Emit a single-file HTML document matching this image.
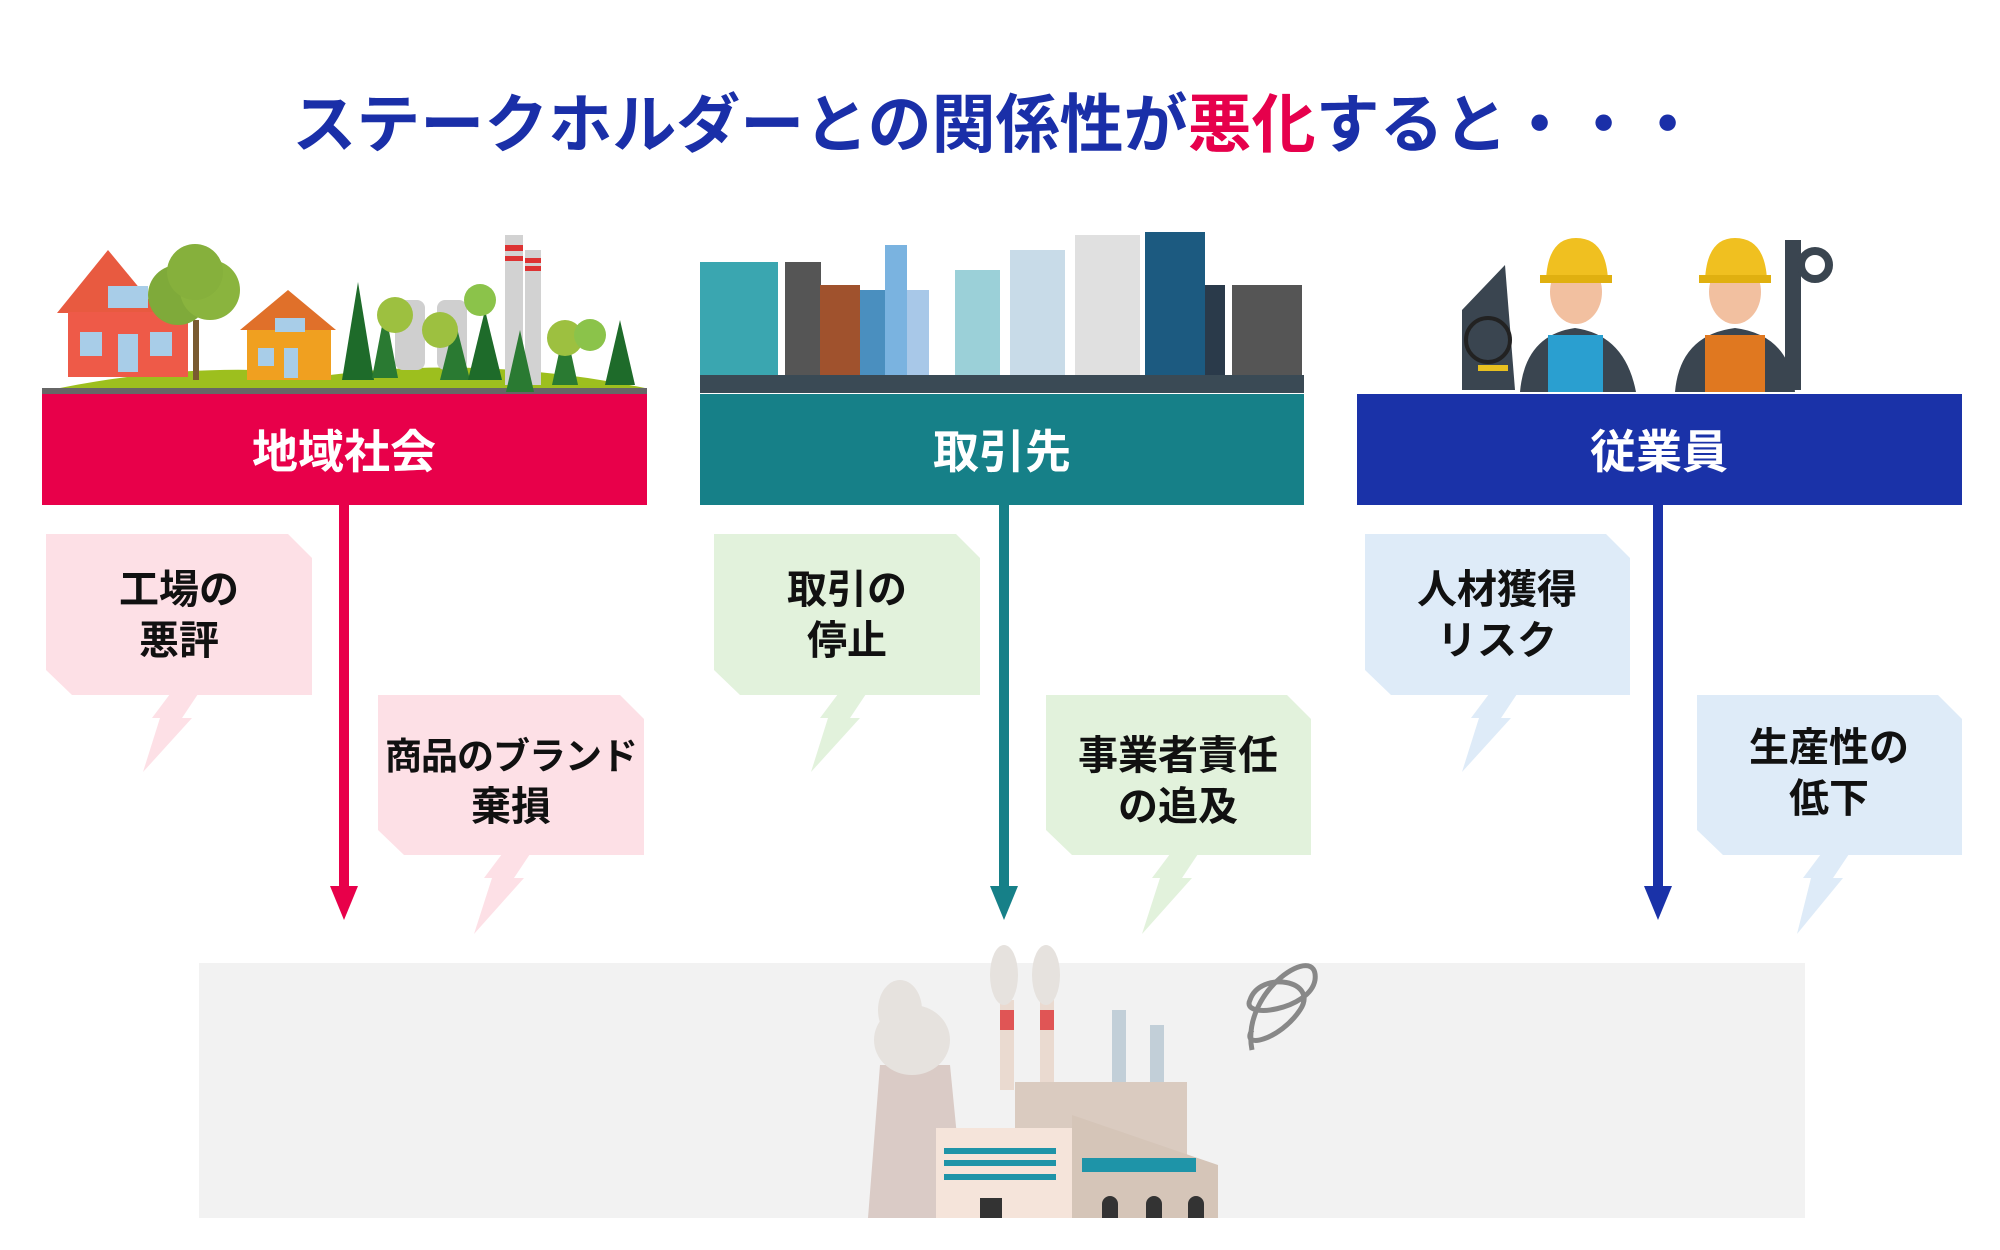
<!DOCTYPE html>
<html><head><meta charset="utf-8"><style>
html,body{margin:0;padding:0;background:#fff;}
svg{display:block;}
text{font-family:"Liberation Sans","Noto Sans CJK JP",sans-serif;font-weight:bold;}
</style></head><body>
<svg width="2000" height="1250" viewBox="0 0 2000 1250" xmlns="http://www.w3.org/2000/svg">
<text x="996" y="147" text-anchor="middle" font-size="64" fill="#1a2fa8">ステークホルダーとの関係性が<tspan fill="#e6004c">悪化</tspan>すると・・・</text>

<g>
<rect x="42" y="388" width="605" height="7" fill="#666"/>
<path d="M60 388 Q200 360 330 375 Q480 355 645 388Z" fill="#9dbf1e"/>
<rect x="505" y="235" width="18" height="150" fill="#d2d2d2"/><rect x="505" y="245" width="18" height="6" fill="#d33"/><rect x="505" y="256" width="18" height="5" fill="#d33"/>
<rect x="525" y="250" width="16" height="135" fill="#d2d2d2"/><rect x="525" y="258" width="16" height="5" fill="#d33"/><rect x="525" y="266" width="16" height="5" fill="#d33"/>
<rect x="395" y="300" width="30" height="70" rx="8" fill="#cfcfcf"/><rect x="437" y="300" width="30" height="70" rx="8" fill="#cfcfcf"/>
<polygon points="57,313 108,250 160,313" fill="#e85a40"/>
<rect x="68" y="312" width="120" height="65" fill="#ee5a48"/>
<rect x="108" y="286" width="40" height="22" fill="#a8cde8"/>
<rect x="80" y="332" width="22" height="24" fill="#a8cde8"/><rect x="118" y="334" width="20" height="38" fill="#a8cde8"/><rect x="150" y="332" width="22" height="24" fill="#a8cde8"/>
<polygon points="240,330 288,290 336,330" fill="#e0702a"/>
<rect x="247" y="330" width="84" height="50" fill="#f0a020"/>
<rect x="275" y="318" width="30" height="14" fill="#a8cde8"/>
<rect x="258" y="348" width="16" height="18" fill="#a8cde8"/><rect x="284" y="348" width="14" height="30" fill="#a8cde8"/>
<rect x="193" y="320" width="6" height="60" fill="#7a5a30"/>
<circle cx="178" cy="295" r="30" fill="#7faa3a"/><circle cx="210" cy="290" r="30" fill="#8ab43e"/><circle cx="195" cy="272" r="28" fill="#86b03c"/>
<polygon points="358,282 342,380 374,380" fill="#1e6b2a"/>
<polygon points="385,310 372,378 398,378" fill="#2a7a32"/>
<polygon points="455,320 440,380 470,380" fill="#2a7a32"/>
<polygon points="485,310 468,380 502,380" fill="#1e6b2a"/>
<polygon points="520,330 506,392 534,392" fill="#2a7a32"/>
<polygon points="565,325 552,385 578,385" fill="#2a7a32"/>
<polygon points="620,320 605,385 635,385" fill="#1e6b2a"/>
<circle cx="395" cy="315" r="18" fill="#9dc040"/><circle cx="440" cy="330" r="18" fill="#9dc040"/><circle cx="480" cy="300" r="16" fill="#8bc34a"/>
<circle cx="565" cy="338" r="18" fill="#9dc040"/><circle cx="590" cy="335" r="16" fill="#8bc34a"/>
</g>

<g>
<rect x="700" y="262" width="78" height="130" fill="#3aa6b0"/>
<rect x="785" y="262" width="36" height="130" fill="#555"/>
<rect x="820" y="285" width="40" height="105" fill="#a0522d"/>
<rect x="860" y="290" width="30" height="100" fill="#4a8fbf"/>
<rect x="885" y="245" width="22" height="145" fill="#7ab3e0"/>
<rect x="907" y="290" width="22" height="100" fill="#a8c8e8"/>
<rect x="955" y="270" width="45" height="120" fill="#9bd0d8"/>
<rect x="1010" y="250" width="55" height="140" fill="#c8dbe8"/>
<rect x="1075" y="235" width="65" height="155" fill="#e0e0e0"/>
<rect x="1145" y="232" width="60" height="160" fill="#1c5a80"/>
<rect x="1205" y="285" width="20" height="105" fill="#2a3a4a"/>
<rect x="1232" y="285" width="70" height="105" fill="#555"/>
<rect x="700" y="375" width="604" height="18" fill="#3a4a55"/>
</g>

<g>
<polygon points="1462,310 1505,265 1515,390 1462,390" fill="#3a4550"/>
<circle cx="1488" cy="340" r="22" fill="#3a4550" stroke="#222" stroke-width="4"/>
<rect x="1478" y="365" width="30" height="6" fill="#e8c020"/>
<path d="M1520 392 Q1525 335 1575 328 Q1625 335 1636 392Z" fill="#3a4550"/>
<rect x="1548" y="335" width="55" height="57" fill="#2a9fd0"/>
<ellipse cx="1576" cy="292" rx="26" ry="32" fill="#f2c0a0"/>
<path d="M1546 280 Q1548 238 1576 238 Q1606 238 1608 280Z" fill="#f0c020"/>
<rect x="1540" y="275" width="72" height="8" fill="#e0b010"/>
<path d="M1675 392 Q1680 335 1735 328 Q1790 335 1795 392Z" fill="#3a4550"/>
<rect x="1705" y="335" width="60" height="57" fill="#e07820"/>
<ellipse cx="1735" cy="292" rx="26" ry="32" fill="#f2c0a0"/>
<path d="M1705 280 Q1707 238 1735 238 Q1765 238 1767 280Z" fill="#f0c020"/>
<rect x="1699" y="275" width="72" height="8" fill="#e0b010"/>
<rect x="1785" y="240" width="16" height="150" fill="#3a4550"/>
<circle cx="1815" cy="265" r="14" fill="none" stroke="#3a4550" stroke-width="8"/>
</g>

<rect x="42" y="394" width="605" height="111" fill="#e8004a"/>
<rect x="700" y="394" width="604" height="111" fill="#168088"/>
<rect x="1357" y="394" width="605" height="111" fill="#1a32a8"/>
<text x="344" y="468" text-anchor="middle" font-size="46" fill="#fff">地域社会</text>
<text x="1002" y="468" text-anchor="middle" font-size="46" fill="#fff">取引先</text>
<text x="1659" y="468" text-anchor="middle" font-size="46" fill="#fff">従業員</text>

<rect x="339" y="505" width="10" height="383" fill="#e8004a"/><polygon points="330,886 358,886 344,920" fill="#e8004a"/>
<rect x="999" y="505" width="10" height="383" fill="#168088"/><polygon points="990,886 1018,886 1004,920" fill="#168088"/>
<rect x="1653" y="505" width="10" height="383" fill="#1a32a8"/><polygon points="1644,886 1672,886 1658,920" fill="#1a32a8"/>

<g fill="#fde0e6">
<polygon points="46,534 288,534 312,558 312,695 72,695 46,670"/>
<polygon points="170,694 198,694 182,718 192,718 143,772 160,718 152,718"/>
<polygon points="378,695 620,695 644,719 644,855 404,855 378,830"/>
<polygon points="502,854 530,854 514,878 524,878 474,934 492,878 484,878"/>
</g>
<g fill="#e2f2dc">
<polygon points="714,534 956,534 980,558 980,695 740,695 714,670"/>
<polygon points="838,694 866,694 850,718 860,718 811,772 828,718 820,718"/>
<polygon points="1046,695 1287,695 1311,719 1311,855 1072,855 1046,830"/>
<polygon points="1170,854 1198,854 1182,878 1192,878 1142,934 1160,878 1152,878"/>
</g>
<g fill="#deebf8">
<polygon points="1365,534 1606,534 1630,558 1630,695 1391,695 1365,670"/>
<polygon points="1489,694 1517,694 1501,718 1511,718 1462,772 1479,718 1471,718"/>
<polygon points="1697,695 1938,695 1962,719 1962,855 1723,855 1697,830"/>
<polygon points="1821,854 1849,854 1833,878 1843,878 1797,934 1811,878 1803,878"/>
</g>
<g font-size="40" fill="#111" text-anchor="middle">
<text x="179" y="603">工場の</text><text x="179" y="654">悪評</text>
<text x="511" y="769" font-size="37" letter-spacing="-1">商品のブランド</text><text x="511" y="820">棄損</text>
<text x="847" y="603">取引の</text><text x="847" y="654">停止</text>
<text x="1178" y="769">事業者責任</text><text x="1178" y="820">の追及</text>
<text x="1497" y="603">人材獲得</text><text x="1497" y="654">リスク</text>
<text x="1829" y="761">生産性の</text><text x="1829" y="812">低下</text>
</g>

<rect x="199" y="963" width="1606" height="255" fill="#f2f2f2"/>
<g>
<polygon points="880,1065 950,1065 965,1218 868,1218" fill="#dacbc6"/>
<ellipse cx="912" cy="1040" rx="38" ry="35" fill="#e6e2de"/>
<ellipse cx="900" cy="1010" rx="22" ry="30" fill="#e6e2de"/>
<rect x="1000" y="1000" width="14" height="90" fill="#eadad0"/><rect x="1000" y="1010" width="14" height="20" fill="#e05555"/>
<rect x="1040" y="1000" width="14" height="90" fill="#eadad0"/><rect x="1040" y="1010" width="14" height="20" fill="#e05555"/>
<ellipse cx="1004" cy="975" rx="14" ry="30" fill="#e6e2de"/><ellipse cx="1046" cy="975" rx="14" ry="30" fill="#e6e2de"/>
<rect x="1112" y="1010" width="14" height="75" fill="#c2cfd8"/><rect x="1150" y="1025" width="14" height="60" fill="#c2cfd8"/>
<rect x="1015" y="1082" width="172" height="136" fill="#dacbc0"/>
<rect x="936" y="1128" width="136" height="90" fill="#f5e4da"/>
<rect x="944" y="1148" width="112" height="6" fill="#1e94a8"/><rect x="944" y="1160" width="112" height="6" fill="#1e94a8"/><rect x="944" y="1174" width="112" height="6" fill="#1e94a8"/>
<polygon points="1072,1115 1218,1165 1218,1218 1072,1218" fill="#d5c5b8"/>
<rect x="1082" y="1158" width="114" height="14" fill="#1e94a8"/>
<rect x="980" y="1198" width="22" height="20" fill="#333"/>
<path d="M1102 1218 v-14 a8 8 0 0 1 16 0 v14Z M1146 1218 v-14 a8 8 0 0 1 16 0 v14Z M1188 1218 v-14 a8 8 0 0 1 16 0 v14Z" fill="#333"/>
<path d="M1252 1050 C1240 990 1320 940 1315 980 C1310 1010 1240 1020 1250 1000 C1260 970 1320 980 1300 1010 C1280 1040 1240 1050 1252 1030" fill="none" stroke="#888" stroke-width="5"/>
</g>
</svg>
</body></html>
